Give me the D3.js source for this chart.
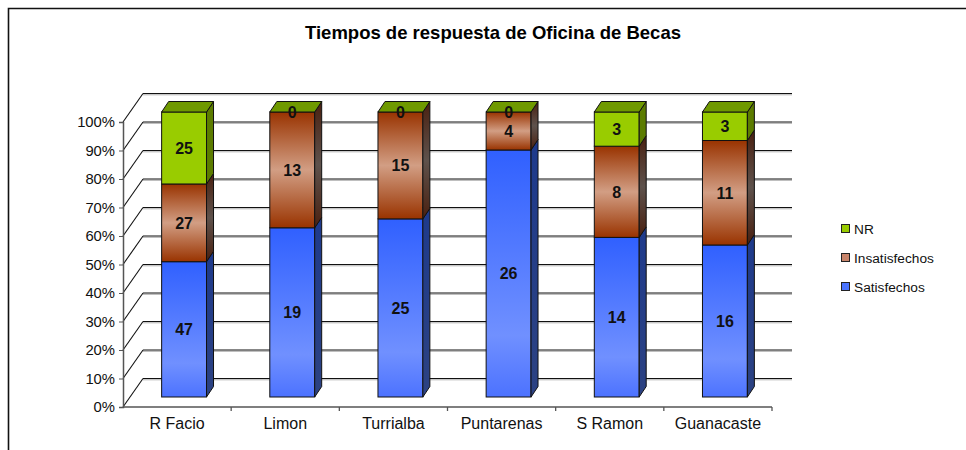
<!DOCTYPE html>
<html>
<head>
<meta charset="utf-8">
<script src="https://d3js.org/d3.v7.min.js"></script>
<style>
  body { margin: 0; background: #fff; }
  svg text { font-family: "Liberation Sans", Arial, sans-serif; }
</style>
</head>
<body>
<div id="chart"></div>
<script>
// data
var categories = ["R Facio", "Limon", "Turrialba", "Puntarenas", "S Ramon", "Guanacaste"];
var satisfechos = [47, 19, 25, 26, 14, 16];
var insatisfechos = [27, 13, 15, 4, 8, 11];
var nr = [25, 0, 0, 0, 3, 3];
var seriesNames = ["Satisfechos", "Insatisfechos", "NR"];
var yTicks = [0, 0.1, 0.2, 0.3, 0.4, 0.5, 0.6, 0.7, 0.8, 0.9, 1];

var width = 966, height = 450;

// front plane of the chart box
var x0 = 123, x1 = 772, yTop = 122, yBot = 407;
// depth of the floor (oblique projection)
var depth = {dx: 20, dy: -28.5};
// bar sits in the middle third of the depth
var barOff = {dx: 7, dy: -10};
var barDepth = {dx: 7, dy: -10.5};

var svg = d3.select("#chart").append("svg")
  .attr("width", width)
  .attr("height", height);

var defs = svg.append("defs");
function vGrad(id, stops) {
  var g = defs.append("linearGradient").attr("id", id)
    .attr("x1", 0).attr("y1", 0).attr("x2", 0).attr("y2", 1);
  stops.forEach(function(s) {
    g.append("stop").attr("offset", s[0]).attr("stop-color", s[1]);
  });
}
vGrad("blueFront", [[0, "#3060ff"], [0.75, "#7090ff"], [1, "#4c72ff"]]);
vGrad("blueSide", [[0, "#1e3a8c"], [1, "#2c4282"]]);
vGrad("brownFront", [[0, "#993300"], [0.5, "#d29e84"], [1, "#993300"]]);
vGrad("brownSide", [[0, "#4a2010"], [0.5, "#5e524c"], [1, "#4a2010"]]);
vGrad("greenFront", [[0, "#99cc00"], [1, "#99cc00"]]);
vGrad("greenSide", [[0, "#5c7c00"], [1, "#5c7c00"]]);

var fills = {
  "Satisfechos": {front: "url(#blueFront)", side: "url(#blueSide)", top: "#2a4fd0", legend: "#4a74ff"},
  "Insatisfechos": {front: "url(#brownFront)", side: "url(#brownSide)", top: "#7a3a1a", legend: "#c8846a"},
  "NR": {front: "url(#greenFront)", side: "url(#greenSide)", top: "#6f9900", legend: "#99cc00"}
};

// outer frame
svg.append("path")
  .attr("d", "M8.5," + height + "V8.5H" + width)
  .attr("fill", "none").attr("stroke", "#111").attr("stroke-width", 1.6);

// title
svg.append("text")
  .attr("x", 493).attr("y", 39)
  .attr("text-anchor", "middle")
  .style("font-size", "18.5px").style("font-weight", "bold")
  .text("Tiempos de respuesta de Oficina de Becas");

// scales
var x = d3.scaleBand().domain(categories).range([x0, x1]).padding(0);
var y = d3.scaleLinear().domain([0, 1]).range([yBot, yTop]);
var barW = x.bandwidth() * 0.415;

// walls: back gridlines and side wall diagonals
var grid = svg.append("g");
yTicks.forEach(function(t) {
  var yb = y(t) + depth.dy;
  grid.append("line")
    .attr("x1", x0 + depth.dx).attr("x2", x1 + depth.dx)
    .attr("y1", yb + 1.3).attr("y2", yb + 1.3)
    .attr("stroke", "#b0b0b0").attr("stroke-width", 1);
  grid.append("line")
    .attr("x1", x0 + depth.dx).attr("x2", x1 + depth.dx)
    .attr("y1", yb).attr("y2", yb)
    .attr("stroke", "#111").attr("stroke-width", 1.2);
  grid.append("line")
    .attr("x1", x0).attr("y1", y(t))
    .attr("x2", x0 + depth.dx).attr("y2", yb)
    .attr("stroke", "#111").attr("stroke-width", 1.1);
});

// y axis on the front plane
var yAxis = svg.append("g")
  .attr("transform", "translate(" + x0 + ",0)")
  .call(d3.axisLeft(y).tickValues(yTicks).tickFormat(d3.format(".0%")).tickSize(4).tickPadding(4));
yAxis.select(".domain").attr("stroke", "#555").attr("stroke-width", 1.5);
yAxis.selectAll(".tick line").attr("stroke", "#555");
yAxis.selectAll("text").style("font-size", "14.8px").attr("fill", "#111");

// category axis
var xAxis = svg.append("g")
  .attr("transform", "translate(0," + yBot + ")")
  .call(d3.axisBottom(x).tickSize(0).tickPadding(11));
xAxis.select(".domain").remove();
xAxis.selectAll("text").style("font-size", "16px").attr("fill", "#111");
xAxis.append("line")
  .attr("x1", x0).attr("x2", x1).attr("y1", 0).attr("y2", 0)
  .attr("stroke", "#555").attr("stroke-width", 1.5);
categories.concat([null]).forEach(function(c) {
  var xt = c === null ? x1 : x(c);
  if (xt === x0) return;
  xAxis.append("line")
    .attr("x1", xt).attr("x2", xt).attr("y1", 0).attr("y2", 4)
    .attr("stroke", "#555").attr("stroke-width", 1.3);
});

// stacked 100% data
var table = categories.map(function(c, i) {
  return {cat: c, Satisfechos: satisfechos[i], Insatisfechos: insatisfechos[i], NR: nr[i]};
});
var stack = d3.stack().keys(seriesNames).offset(d3.stackOffsetExpand);
var layers = stack(table);

function poly(pts) {
  return "M" + pts.map(function(p) { return p[0] + "," + p[1]; }).join("L") + "Z";
}

var bars = svg.append("g");
categories.forEach(function(c, i) {
  var g = bars.append("g");
  var bx = x(c) + (x.bandwidth() - barW) / 2 + barOff.dx;
  layers.forEach(function(layer) {
    var d = layer[i];
    var ya = y(d[1]) + barOff.dy, yb = y(d[0]) + barOff.dy;
    var f = fills[layer.key];
    // front face
    g.append("rect")
      .attr("x", bx).attr("y", ya)
      .attr("width", barW).attr("height", Math.max(0, yb - ya))
      .attr("fill", f.front).attr("stroke", "#111").attr("stroke-width", 1);
    // side face
    if (yb - ya > 0) {
      g.append("path")
        .attr("d", poly([[bx + barW, ya], [bx + barW + barDepth.dx, ya + barDepth.dy],
                         [bx + barW + barDepth.dx, yb + barDepth.dy], [bx + barW, yb]]))
        .attr("fill", f.side).attr("stroke", "#111").attr("stroke-width", 1);
    }
  });
  // top face of the top series
  var topLayer = layers[layers.length - 1];
  var yt = y(topLayer[i][1]) + barOff.dy;
  g.append("path")
    .attr("d", poly([[bx, yt], [bx + barDepth.dx, yt + barDepth.dy],
                     [bx + barW + barDepth.dx, yt + barDepth.dy], [bx + barW, yt]]))
    .attr("fill", fills[topLayer.key].top).attr("stroke", "#111").attr("stroke-width", 1);

  // value labels
  layers.forEach(function(layer) {
    var d = layer[i];
    var ym = (y(d[0]) + y(d[1])) / 2 + barOff.dy;
    g.append("text")
      .attr("x", bx + barW / 2).attr("y", ym)
      .attr("dy", "0.36em")
      .attr("text-anchor", "middle")
      .style("font-size", "16px").style("font-weight", "bold")
      .attr("fill", "#111")
      .text(d.data[layer.key]);
  });
});

// legend
var legend = svg.append("g").attr("transform", "translate(841,229)");
seriesNames.slice().reverse().forEach(function(s, i) {
  var lg = legend.append("g").attr("transform", "translate(0," + (i * 29) + ")");
  lg.append("rect")
    .attr("x", 0.5).attr("y", -4.5).attr("width", 8).attr("height", 8)
    .attr("fill", fills[s].legend).attr("stroke", "#222").attr("stroke-width", 1);
  lg.append("text")
    .attr("x", 13).attr("y", 0).attr("dy", "0.36em")
    .style("font-size", "13.7px").attr("fill", "#111")
    .text(s);
});
</script>
</body>
</html>
